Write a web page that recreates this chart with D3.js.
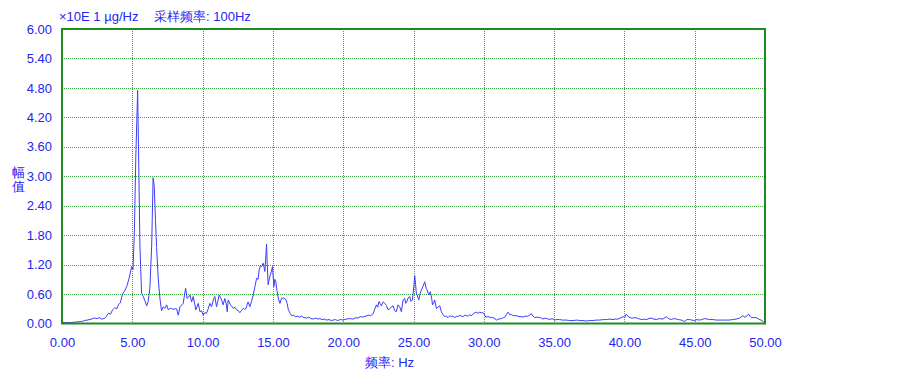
<!DOCTYPE html>
<html><head><meta charset="utf-8">
<script src="https://cdn.jsdelivr.net/npm/d3@7"></script>
<style>html,body{margin:0;padding:0;background:#fff;}svg{display:block;}</style>
</head><body>
<script>
const freqs = [0.00,0.05,0.3,0.6,1.0,1.4,1.6,1.8,2.1,2.3,2.5,2.65,2.8,3.0,3.15,3.3,3.45,3.6,3.75,3.9,4.0,4.15,4.3,4.45,4.6,4.8,4.95,5.05,5.15,5.25,5.38,5.46,5.54,5.66,5.78,5.9,6.02,6.12,6.25,6.38,6.48,6.56,6.65,6.73,6.85,6.97,7.08,7.2,7.32,7.44,7.56,7.7,7.91,8.05,8.15,8.27,8.39,8.62,8.79,8.9,9.0,9.1,9.22,9.33,9.52,9.69,9.81,9.92,10.04,10.16,10.28,10.4,10.52,10.64,10.76,10.87,10.99,11.08,11.18,11.35,11.46,11.58,11.68,11.75,11.82,11.99,12.1,12.18,12.3,12.41,12.55,12.65,12.78,12.89,13.0,13.08,13.16,13.24,13.36,13.48,13.6,13.72,13.84,13.95,14.02,14.12,14.19,14.31,14.43,14.55,14.6,14.66,14.78,14.88,14.97,15.07,15.14,15.21,15.3,15.4,15.5,15.61,15.75,15.85,15.95,16.01,16.1,16.22,16.34,16.46,16.6,16.72,16.9,17.05,17.2,17.39,17.55,17.7,17.86,18.05,18.2,18.34,18.5,18.65,18.81,19.0,19.15,19.28,19.45,19.6,19.8,20.0,20.2,20.47,20.7,20.9,21.05,21.2,21.4,21.6,21.77,21.95,22.13,22.25,22.37,22.45,22.55,22.64,22.72,22.84,22.96,23.07,23.19,23.31,23.43,23.55,23.67,23.78,23.9,24.02,24.14,24.26,24.38,24.45,24.55,24.61,24.73,24.82,24.92,25.02,25.09,25.15,25.2,25.33,25.38,25.46,25.56,25.68,25.8,25.9,25.96,26.04,26.1,26.2,26.3,26.35,26.43,26.51,26.63,26.75,26.87,26.98,27.1,27.22,27.34,27.46,27.58,27.7,27.8,27.93,28.05,28.16,28.29,28.4,28.52,28.65,28.76,28.88,29.0,29.1,29.23,29.36,29.47,29.58,29.7,29.82,29.94,30.05,30.14,30.3,30.42,30.55,30.65,30.78,30.9,31.05,31.25,31.4,31.49,31.6,31.72,31.84,31.96,32.1,32.31,32.5,32.67,32.79,32.95,33.14,33.26,33.38,33.5,33.62,33.8,33.97,34.1,34.21,34.35,34.45,34.6,34.7,34.85,35.04,35.2,35.39,35.6,35.87,36.1,36.34,36.6,36.82,37.05,37.29,37.5,37.76,38.0,38.24,38.5,38.71,38.95,39.19,39.35,39.54,39.7,39.9,40.02,40.13,40.25,40.4,40.55,40.8,41.0,41.2,41.4,41.55,41.75,41.91,42.1,42.27,42.5,42.74,42.97,43.15,43.33,43.5,43.69,43.85,44.04,44.15,44.28,44.45,44.63,44.8,44.99,45.15,45.34,45.5,45.7,45.9,46.06,46.3,46.53,46.9,47.2,47.46,47.7,47.95,48.2,48.42,48.55,48.65,48.84,48.95,49.02,49.2,49.37,49.55,49.72,49.9,50.0];
const amps = [0.17,0.02,0.02,0.02,0.03,0.04,0.06,0.07,0.09,0.11,0.10,0.12,0.09,0.10,0.14,0.21,0.19,0.28,0.32,0.30,0.38,0.42,0.60,0.66,0.75,0.95,1.16,1.10,1.90,3.40,4.75,3.20,1.60,0.62,0.55,0.46,0.36,0.44,0.72,1.60,2.97,2.80,2.10,1.55,0.89,0.50,0.26,0.34,0.31,0.38,0.28,0.31,0.29,0.30,0.30,0.17,0.34,0.41,0.72,0.51,0.54,0.58,0.44,0.55,0.28,0.41,0.24,0.26,0.17,0.22,0.21,0.30,0.41,0.34,0.48,0.55,0.34,0.45,0.58,0.48,0.38,0.51,0.40,0.24,0.48,0.38,0.34,0.31,0.33,0.28,0.26,0.22,0.27,0.31,0.29,0.30,0.38,0.44,0.34,0.45,0.58,0.75,0.92,0.90,1.09,1.18,1.16,1.23,1.06,1.62,1.20,0.79,0.96,1.05,1.16,0.75,0.90,0.85,0.65,0.50,0.41,0.51,0.52,0.51,0.47,0.41,0.28,0.21,0.16,0.17,0.14,0.15,0.13,0.15,0.12,0.11,0.13,0.10,0.09,0.11,0.09,0.10,0.08,0.09,0.07,0.08,0.06,0.07,0.08,0.06,0.08,0.07,0.09,0.10,0.09,0.12,0.11,0.14,0.13,0.15,0.17,0.16,0.20,0.30,0.38,0.33,0.45,0.40,0.36,0.44,0.41,0.37,0.28,0.30,0.34,0.36,0.26,0.24,0.38,0.34,0.24,0.48,0.51,0.41,0.46,0.52,0.55,0.45,0.48,0.75,0.97,0.80,0.62,0.52,0.48,0.60,0.68,0.76,0.85,0.72,0.69,0.62,0.58,0.65,0.50,0.38,0.42,0.48,0.30,0.34,0.36,0.24,0.18,0.14,0.15,0.12,0.16,0.14,0.15,0.12,0.15,0.14,0.17,0.15,0.14,0.17,0.16,0.15,0.18,0.16,0.19,0.22,0.23,0.21,0.23,0.22,0.22,0.18,0.13,0.14,0.13,0.12,0.12,0.10,0.07,0.09,0.10,0.12,0.13,0.18,0.23,0.18,0.18,0.16,0.16,0.14,0.14,0.13,0.15,0.15,0.17,0.20,0.15,0.12,0.13,0.12,0.11,0.09,0.11,0.10,0.09,0.08,0.10,0.07,0.08,0.08,0.07,0.07,0.06,0.06,0.07,0.06,0.06,0.05,0.06,0.06,0.07,0.07,0.08,0.08,0.09,0.08,0.09,0.09,0.11,0.14,0.12,0.19,0.15,0.12,0.11,0.12,0.10,0.08,0.09,0.08,0.10,0.11,0.09,0.08,0.10,0.09,0.14,0.10,0.08,0.10,0.09,0.08,0.07,0.06,0.04,0.08,0.08,0.07,0.06,0.08,0.07,0.08,0.10,0.09,0.08,0.08,0.07,0.07,0.07,0.07,0.08,0.09,0.11,0.16,0.13,0.14,0.19,0.14,0.12,0.12,0.12,0.09,0.07,0.03,0.02];
const xTicks = [0,5,10,15,20,25,30,35,40,45,50];
const yTicks = [0,0.6,1.2,1.8,2.4,3.0,3.6,4.2,4.8,5.4,6.0];
const unitLabel = "×10E 1 µg/Hz";
const rateLabel = "采样频率: 100Hz";
const xTitle = "频率: Hz";
const yTitleChars = ["幅","值"];

const W = 903, H = 384;
const L = 62, R = 765, T = 29, B = 323.5;
const textColor = "#2424f0";
const font = "'Liberation Sans', Arial, sans-serif";

const svg = d3.select("body").append("svg").attr("width", W).attr("height", H);
const x = d3.scaleLinear().domain([0,50]).range([L,R]);
const y = d3.scaleLinear().domain([0,6]).range([B,T]);

// grid
const grid = svg.append("g");
grid.selectAll("line.v").data(xTicks.slice(1,-1)).join("line")
  .attr("x1", d=>Math.round(x(d))+0.5).attr("x2", d=>Math.round(x(d))+0.5)
  .attr("y1", T).attr("y2", B)
  .attr("stroke", "#3aa83a").attr("stroke-width", 1).attr("stroke-dasharray", "1,1");
grid.selectAll("line.h").data(yTicks.slice(1,-1)).join("line")
  .attr("y1", d=>Math.round(y(d))+0.5).attr("y2", d=>Math.round(y(d))+0.5)
  .attr("x1", L).attr("x2", R)
  .attr("stroke", "#3aa83a").attr("stroke-width", 1).attr("stroke-dasharray", "1,1");

// axes (labels)
const xAxis = d3.axisBottom(x).tickValues(xTicks).tickFormat(d3.format(".2f")).tickSize(0).tickPadding(0);
const gx = svg.append("g").attr("transform", `translate(0,${B})`).call(xAxis);
gx.select(".domain").remove();
gx.selectAll("text").attr("y", 23).attr("dy", 0).attr("fill", textColor)
  .style("font-family", font).style("font-size", "13px");

const yAxis = d3.axisLeft(y).tickValues(yTicks).tickFormat(d3.format(".2f")).tickSize(0).tickPadding(0);
const gy = svg.append("g").attr("transform", `translate(${L},0)`).call(yAxis);
gy.select(".domain").remove();
gy.selectAll("text").attr("x", -10).attr("dy", "0.32em").attr("fill", textColor)
  .style("font-family", font).style("font-size", "13px");

// line
const line = d3.line().x((d,i)=>x(freqs[i])).y(d=>y(d));
svg.append("path").datum(amps).attr("d", line)
  .attr("fill", "none").attr("stroke", "#3c3cff").attr("stroke-width", 1);

// border
svg.append("rect").attr("x", L).attr("y", T).attr("width", R-L).attr("height", B-T)
  .attr("fill", "none").attr("stroke", "#1f8a1f").attr("stroke-width", 2);

// texts
svg.append("text").attr("x", 59).attr("y", 21).text(unitLabel)
  .attr("fill", textColor).style("font-family", font).style("font-size", "13px");
svg.append("text").attr("x", 154).attr("y", 21).text(rateLabel)
  .attr("fill", textColor).style("font-family", font).style("font-size", "13px");
svg.append("text").attr("x", 365).attr("y", 367).text(xTitle)
  .attr("fill", textColor).style("font-family", font).style("font-size", "13px");
svg.append("g").selectAll("text").data(yTitleChars).join("text")
  .attr("x", 18).attr("y", (d,i)=>177+i*14).attr("text-anchor","middle").text(d=>d)
  .attr("fill", textColor).style("font-family", font).style("font-size", "13px");
</script>
</body></html>
